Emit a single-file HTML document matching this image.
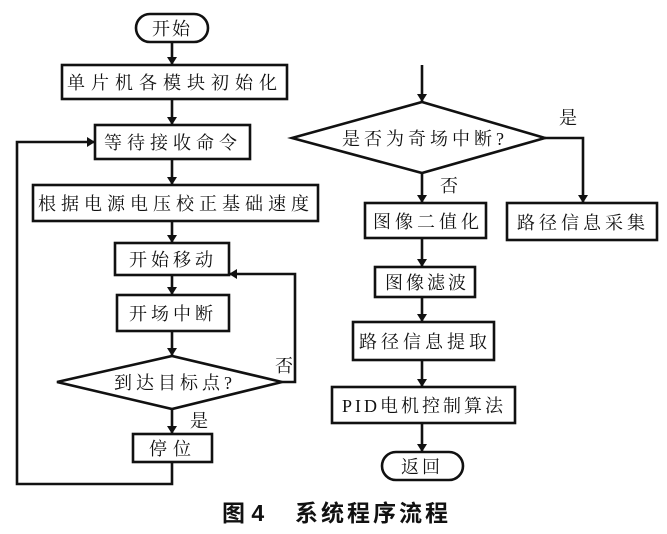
<!DOCTYPE html>
<html><head><meta charset="utf-8"><style>
html,body{margin:0;padding:0;background:#fff}
svg text{font-family:"Liberation Serif","Noto Serif CJK SC","Noto Sans CJK SC",serif;fill:#111}
</style></head><body>
<svg width="667" height="529" viewBox="0 0 667 529" xmlns="http://www.w3.org/2000/svg">
<defs><marker id="a" markerWidth="8" markerHeight="10" refX="7" refY="5" orient="auto" markerUnits="userSpaceOnUse"><path d="M0,0 L8,5 L0,10 z" fill="#111"/></marker></defs>
<g stroke="#111" stroke-width="2.6" fill="none">
<rect x="136" y="14" width="72" height="28" rx="14"/>
<rect x="62" y="65" width="225" height="34"/>
<rect x="95" y="125" width="155" height="34"/>
<rect x="33" y="185" width="285" height="36"/>
<rect x="115" y="243" width="114" height="32"/>
<rect x="117" y="295" width="112" height="36"/>
<polygon points="57,382 172,356 282,382 172,409"/>
<rect x="133" y="434" width="79" height="28"/>
<line x1="172" y1="42" x2="172" y2="64" marker-end="url(#a)"/>
<line x1="172" y1="99" x2="172" y2="124" marker-end="url(#a)"/>
<line x1="172" y1="159" x2="172" y2="184" marker-end="url(#a)"/>
<line x1="172" y1="221" x2="172" y2="242" marker-end="url(#a)"/>
<line x1="172" y1="275" x2="172" y2="294" marker-end="url(#a)"/>
<line x1="172" y1="331" x2="172" y2="355" marker-end="url(#a)"/>
<line x1="172" y1="409" x2="172" y2="433" marker-end="url(#a)"/>
<polyline points="172,462 172,484 17,484 17,142 94,142" marker-end="url(#a)"/>
<polyline points="282,382 295,382 295,274 230,274" marker-end="url(#a)"/>
<polygon points="292,138 422,102 545,138 422,173"/>
<rect x="507" y="203" width="150" height="37"/>
<rect x="365" y="203" width="121" height="35"/>
<rect x="375" y="267" width="100" height="30"/>
<rect x="353" y="322" width="141" height="38"/>
<rect x="332" y="387" width="183" height="36"/>
<rect x="382" y="452" width="81" height="28" rx="14"/>
<line x1="422" y1="65" x2="422" y2="101" marker-end="url(#a)"/>
<polyline points="545,138 583,138 583,202" marker-end="url(#a)"/>
<line x1="422" y1="173" x2="422" y2="202" marker-end="url(#a)"/>
<line x1="422" y1="238" x2="422" y2="266" marker-end="url(#a)"/>
<line x1="422" y1="297" x2="422" y2="321" marker-end="url(#a)"/>
<line x1="422" y1="360" x2="422" y2="386" marker-end="url(#a)"/>
<line x1="422" y1="423" x2="422" y2="451" marker-end="url(#a)"/>
</g>
<g font-size="18" text-anchor="middle">
<text x="172" y="35" letter-spacing="2">开始</text>
<text x="175" y="89" letter-spacing="6">单片机各模块初始化</text>
<text x="173" y="149" letter-spacing="5">等待接收命令</text>
<text x="176" y="210" letter-spacing="5">根据电源电压校正基础速度</text>
<text x="173" y="266" letter-spacing="4">开始移动</text>
<text x="173" y="320" letter-spacing="4">开场中断</text>
<text x="175" y="389" letter-spacing="4">到达目标点?</text>
<text x="173" y="455" letter-spacing="6">停位</text>
<text x="284" y="372">否</text>
<text x="199" y="427">是</text>
<text x="425" y="145" letter-spacing="4">是否为奇场中断?</text>
<text x="568" y="124">是</text>
<text x="449" y="192">否</text>
<text x="428" y="228" letter-spacing="4">图像二值化</text>
<text x="583" y="229" letter-spacing="4">路径信息采集</text>
<text x="427" y="289" letter-spacing="3">图像滤波</text>
<text x="425" y="348" letter-spacing="4">路径信息提取</text>
<text x="424" y="412" letter-spacing="3">PID电机控制算法</text>
<text x="422" y="473" letter-spacing="3">返回</text>
</g>
<text x="222" y="521" font-size="23" font-weight="bold" style="font-family:'Liberation Sans','Noto Sans CJK SC',sans-serif">图 4</text>
<text x="295" y="521" font-size="23" font-weight="bold" letter-spacing="3" style="font-family:'Liberation Sans','Noto Sans CJK SC',sans-serif">系统程序流程</text>
</svg>
</body></html>
